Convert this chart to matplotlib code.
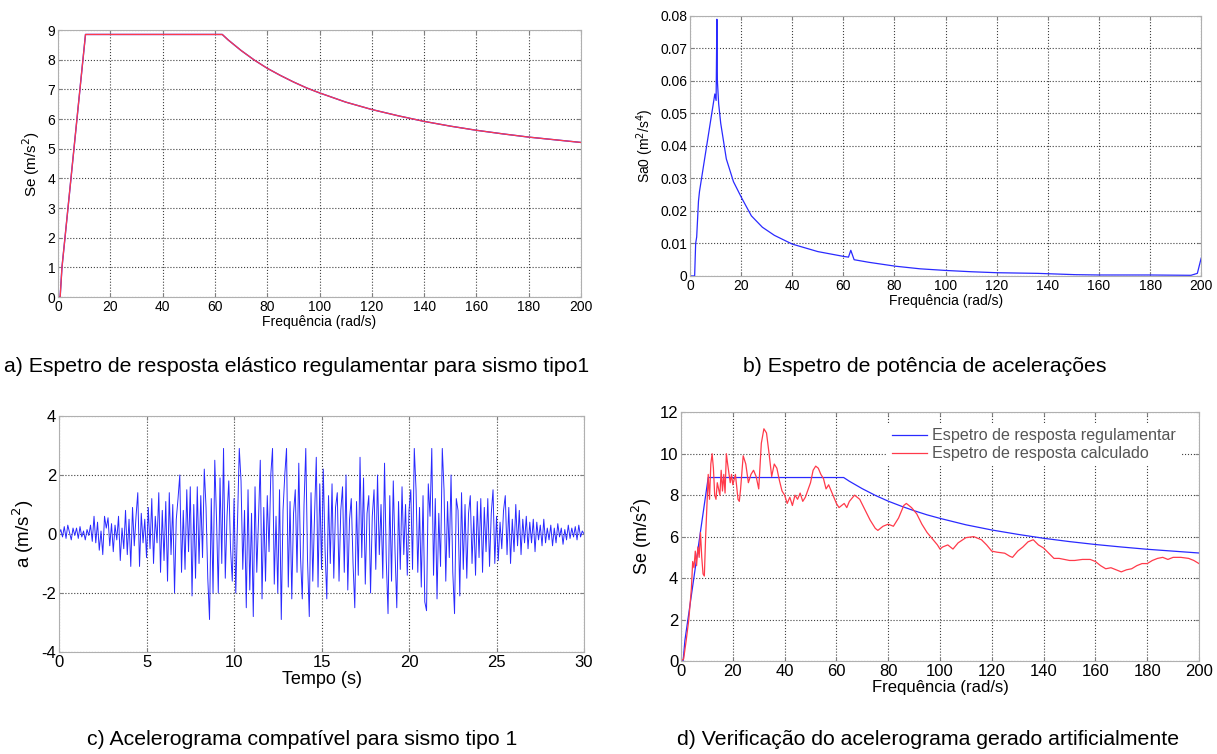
import matplotlib
matplotlib.use("Agg")
import matplotlib.pyplot as plt
from matplotlib.ticker import FuncFormatter

plt.rcParams['font.family'] = ['Liberation Sans', 'DejaVu Sans']
plt.rcParams['axes.unicode_minus'] = False

# ---------------- data ----------------
# a) regulatory elastic response spectrum (type 1)
freq_reg = [0, 0.8, 1.5, 3, 5, 7, 9, 10.5, 20, 30, 40, 50, 60, 62.8, 65, 70, 75, 80, 85, 90, 95,
            100, 110, 120, 130, 140, 150, 160, 170, 180, 190, 200]
se_reg = [0, 0.0, 1.0, 2.3, 4.05, 5.8, 7.55, 8.85, 8.85, 8.85, 8.85, 8.85, 8.85, 8.85, 8.67, 8.31,
          7.99, 7.71, 7.47, 7.25, 7.05, 6.88, 6.57, 6.32, 6.11, 5.92, 5.76, 5.62, 5.50, 5.39,
          5.30, 5.21]

# b) power spectrum of accelerations
freq_psd = [0, 1.5, 1.8, 2.0, 2.2, 2.6, 3.3, 3.7, 9.7, 10.2, 10.5, 10.7, 11.2, 12, 14.2, 17, 20.2,
            24, 28.3, 33, 40, 50, 60.2, 62.0, 62.9, 64.2, 70, 80.4, 90, 100, 110, 120, 136, 150.7,
            160, 180, 196, 198.5, 200]
psd = [0, 0, 0.0, 0.005, 0.010, 0.012, 0.023, 0.026, 0.056, 0.054, 0.079, 0.060, 0.053, 0.047,
       0.036, 0.029, 0.024, 0.0185, 0.015, 0.0125, 0.0098, 0.0075, 0.006, 0.0058, 0.0079, 0.005,
       0.0042, 0.003, 0.0022, 0.0017, 0.0013, 0.001, 0.0008, 0.0004, 0.0003, 0.0003, 0.0002,
       0.0008, 0.0055]

# c) compatible accelerogram (one row per second, dt = 0.1 s)
accel = [
    0.0, 0.15, -0.1, 0.25, -0.15, 0.3, 0.05, -0.2, 0.2, -0.05,
    0.2, -0.15, 0.25, -0.1, 0.1, -0.2, 0.15, -0.05, 0.3, -0.25,
    0.6, -0.3, 0.4, -0.55, 0.1, -0.7, 0.6, 0.2, 0.55, -0.4,
    0.35, -0.6, 0.3, -0.2, 0.6, -0.9, 0.2, -0.5, 0.8, -0.7,
    0.5, -1.1, 0.9, -0.4, 0.6, 1.4, -1.1, 0.7, -0.3, 0.5,
    -0.8, 0.9, -0.5, 1.2, -1.0, 0.6, -0.3, 1.4, -1.3, 0.8,
    -0.9, 1.1, -1.6, 1.4, -0.7, 1.0, -2.0, 0.5, 1.2, 2.0,
    -1.3, 0.8, -1.2, 1.5, -0.6, 1.6, -2.1, 1.0, -1.5, 1.6,
    -1.0, 1.3, -0.8, 2.2, 0.9, -1.5, -2.9, 1.2, -2.0, 2.5,
    0.5, -2.0, 1.9, -1.0, 2.9, -1.5, 0.6, 1.8, -0.5, -1.6,
    1.2, -2.0, 0.4, 2.9, 1.8, -1.2, 0.8, -2.5, 1.5, -1.9,
    0.7, -2.8, 1.6, -1.3, 0.5, 2.5, -2.2, 0.9, -1.6, 1.3,
    -0.6, 2.0, 2.9, -1.7, 0.6, -2.0, 1.5, -2.9, 0.8, 2.0,
    2.9, -1.8, 1.1, -2.2, 0.7, 1.5, -1.3, 2.4, -0.8, -2.2,
    1.0, 2.9, -0.9, -2.8, 1.4, -1.6, 0.6, 2.6, -1.8, 1.7,
    -1.2, 2.2, -0.5, -2.2, 1.3, -1.0, 1.7, -1.5, 0.9, 1.4,
    -1.6, 0.8, 1.6, -1.3, 2.0, -1.9, 0.5, 1.2, -1.0, -2.5,
    1.1, -1.4, 2.6, -0.8, 1.9, -1.7, 0.7, 1.3, -2.0, 0.6,
    1.5, -1.2, 2.0, -0.7, 1.0, -1.5, 2.4, -0.9, -2.7, 1.3,
    -1.6, 1.8, -0.6, -2.5, 1.1, -1.2, 1.6, -0.7, 1.0, -1.4,
    0.8, 1.5, -1.2, 2.9, 1.5, -1.3, 0.9, -1.8, 1.3, -2.3,
    -2.6, 1.7, 0.6, 2.9, -1.4, 1.2, -2.2, 0.7, -1.1, 2.9,
    1.5, -1.6, 1.1, -0.8, 2.0, -1.3, -2.7, 1.2, 0.8, -2.1,
    1.4, -1.2, 1.0, -1.5, 0.7, 1.3, -1.0, 0.6, -1.4, 1.1,
    -0.8, 1.2, -1.3, 0.9, -0.6, 1.2, -1.1, 0.7, 1.5, -1.0,
    0.6, -0.9, 0.4, -0.5, 0.8, 1.3, -0.7, 0.9, -1.0, 0.5,
    -0.6, 1.0, -0.4, 0.8, -0.7, 0.5, -0.3, 0.6, -0.5, 0.4,
    -0.3, 0.5, -0.6, 0.4, -0.2, 0.3, -0.4, 0.5, -0.3, 0.2,
    -0.2, 0.3, -0.4, 0.2, -0.3, 0.35, -0.1, 0.2, -0.35, 0.15,
    -0.2, 0.3, -0.15, 0.2, -0.1, 0.25, -0.2, 0.3, -0.1, 0.1,
    0.0,
]
time = [i / 10 for i in range(len(accel))]

# d) computed response spectrum
freq_calc = [0, 1, 2, 3, 4, 4.5, 5, 5.5, 6, 6.5, 7, 7.5, 8, 8.5, 9, 9.5, 10, 10.5, 11, 11.5, 12,
             12.5, 13, 13.5, 14, 15, 15.5, 16, 16.5, 17, 17.5, 18, 19, 19.5, 20, 21, 22, 22.5,
             23, 24, 25, 26, 27, 28, 29, 30, 31, 32, 33, 34, 35, 36, 37, 38, 39, 40, 41, 42, 43,
             44, 45, 46, 47, 48, 50, 51, 52, 53, 54, 55, 56, 57, 58, 59, 60, 61, 62, 63, 64, 65,
             67, 69, 71, 73, 75, 76, 78, 80, 82, 84, 86, 87, 89, 91, 93, 95, 97, 99, 100, 101,
             103, 105, 107, 110, 113, 116, 118, 120, 122, 125, 127, 128, 130, 132, 134, 136, 138,
             140, 142, 144, 146, 148, 150, 152, 155, 158, 160, 162, 164, 166, 168, 170, 172, 174,
             176, 178, 180, 182, 184, 186, 188, 190, 193, 196, 198, 200]
se_calc = [0, 0.1, 1.0, 2.0, 3.5, 4.8, 4.5, 5.3, 4.6, 5.5, 5.0, 6.2, 5.0, 4.2, 4.1, 6.0, 7.5, 9.0,
           7.8, 9.5, 10.0, 9.3, 8.0, 7.8, 8.6, 8.0, 9.2, 8.2, 9.0, 8.1, 10.0, 9.5, 8.6, 9.0, 8.5,
           9.0, 7.8, 7.7, 8.3, 9.9, 9.5, 8.6, 9.0, 9.2, 8.9, 8.3, 10.5, 11.2, 11.0, 10.0, 8.9,
           9.5, 9.3, 8.7, 8.2, 8.0, 7.6, 7.9, 7.5, 8.0, 7.8, 8.1, 7.7, 7.9, 8.6, 9.2, 9.4, 9.3,
           9.0, 8.8, 8.3, 8.5, 8.2, 7.9, 7.6, 7.4, 7.5, 7.6, 7.4, 7.7, 8.0, 7.8, 7.3, 6.8, 6.4,
           6.3, 6.5, 6.6, 6.5, 6.9, 7.5, 7.6, 7.4, 7.1, 6.6, 6.2, 5.9, 5.6, 5.4, 5.5, 5.6, 5.4,
           5.7, 5.95, 6.0, 5.85, 5.6, 5.3, 5.25, 5.2, 5.05, 5.0, 5.3, 5.5, 5.75, 5.85, 5.6, 5.45,
           5.2, 4.95, 4.95, 4.9, 4.85, 4.85, 4.9, 4.9, 4.8, 4.6, 4.45, 4.5, 4.4, 4.3, 4.4, 4.45,
           4.6, 4.7, 4.7, 4.85, 4.95, 5.0, 4.9, 5.0, 5.0, 4.95, 4.85, 4.7]

legend_labels = ["Espetro de resposta regulamentar", "Espetro de resposta calculado"]
captions = ["a) Espetro de resposta elástico regulamentar para sismo tipo1",
            "b) Espetro de potência de acelerações",
            "c) Acelerograma compatível para sismo tipo 1",
            "d) Verificação do acelerograma gerado artificialmente"]

BLUE = '#2a2aff'
RED = '#ff3a4a'

fig = plt.figure(figsize=(12.17, 7.54), dpi=100)


def style(ax, fs):
    ax.grid(True, linestyle=':', color='#404040', linewidth=0.8)
    ax.set_axisbelow(True)
    for s in ax.spines.values():
        s.set_color('#b0b0b0')
        s.set_linewidth(0.8)
    ax.tick_params(direction='in', length=3, color='#808080', labelsize=fs, pad=2,
                   top=True, right=True)


# a)
ax1 = fig.add_axes([0.0477, 0.6061, 0.4297, 0.3541])
ax1.plot(freq_reg, se_reg, color=BLUE, lw=1.0)
ax1.plot(freq_reg, se_reg, color=RED, lw=0.9)
ax1.set_xlim(0, 200)
ax1.set_ylim(0, 9)
ax1.set_xticks(range(0, 201, 20))
ax1.set_yticks(range(0, 10))
style(ax1, 10)
ax1.set_xlabel("Frequência (rad/s)", fontsize=10, labelpad=1)
ax1.set_ylabel("Se (m/s$^2$)", fontsize=11, labelpad=4)

# b)
ax2 = fig.add_axes([0.567, 0.634, 0.420, 0.3448])
ax2.plot(freq_psd, psd, color=BLUE, lw=0.9)
ax2.set_xlim(0, 200)
ax2.set_ylim(0, 0.08)
ax2.set_xticks(range(0, 201, 20))
ax2.set_yticks([i / 100 for i in range(0, 9)])
ax2.yaxis.set_major_formatter(FuncFormatter(lambda v, p: '0' if abs(v) < 1e-12 else f'{v:.2f}'))
style(ax2, 10)
ax2.set_xlabel("Frequência (rad/s)", fontsize=10, labelpad=1)
ax2.set_ylabel("Sa0 (m$^2$/s$^4$)", fontsize=10, labelpad=3)

# c)
ax3 = fig.add_axes([0.0485, 0.1353, 0.4314, 0.313])
ax3.plot(time, accel, color=BLUE, lw=0.7)
ax3.set_xlim(0, 30)
ax3.set_ylim(-4, 4)
ax3.set_xticks(range(0, 31, 5))
ax3.set_yticks([-4, -2, 0, 2, 4])
style(ax3, 12)
ax3.set_xlabel("Tempo (s)", fontsize=13, labelpad=1)
ax3.set_ylabel("a (m/s$^2$)", fontsize=13.5, labelpad=4)

# d)
ax4 = fig.add_axes([0.5596, 0.1233, 0.4256, 0.330])
ax4.plot(freq_reg, se_reg, color=BLUE, lw=0.9, label=legend_labels[0])
ax4.plot(freq_calc, se_calc, color=RED, lw=0.9, label=legend_labels[1])
ax4.set_xlim(0, 200)
ax4.set_ylim(0, 12)
ax4.set_xticks(range(0, 201, 20))
ax4.set_yticks(range(0, 13, 2))
style(ax4, 12)
ax4.set_xlabel("Frequência (rad/s)", fontsize=12, labelpad=1)
ax4.set_ylabel("Se (m/s$^2$)", fontsize=13, labelpad=4)
leg = ax4.legend(loc='upper right', bbox_to_anchor=(0.965, 0.955), fontsize=11.6,
                 frameon=True, framealpha=1, edgecolor='none', facecolor='white',
                 handlelength=2.2, handletextpad=0.3, labelspacing=0.2, borderpad=0.3,
                 borderaxespad=0.0)
for t in leg.get_texts():
    t.set_color('#555555')

# captions
CAP_FS = 15.3
fig.text(0.003, 0.514, captions[0], fontsize=CAP_FS, va='center', ha='left')
fig.text(0.6105, 0.514, captions[1], fontsize=CAP_FS, va='center', ha='left')
fig.text(0.248, 0.019, captions[2], fontsize=CAP_FS, va='center', ha='center')
fig.text(0.7625, 0.019, captions[3], fontsize=CAP_FS, va='center', ha='center')

fig.savefig("out.png", dpi=100, facecolor='white')
